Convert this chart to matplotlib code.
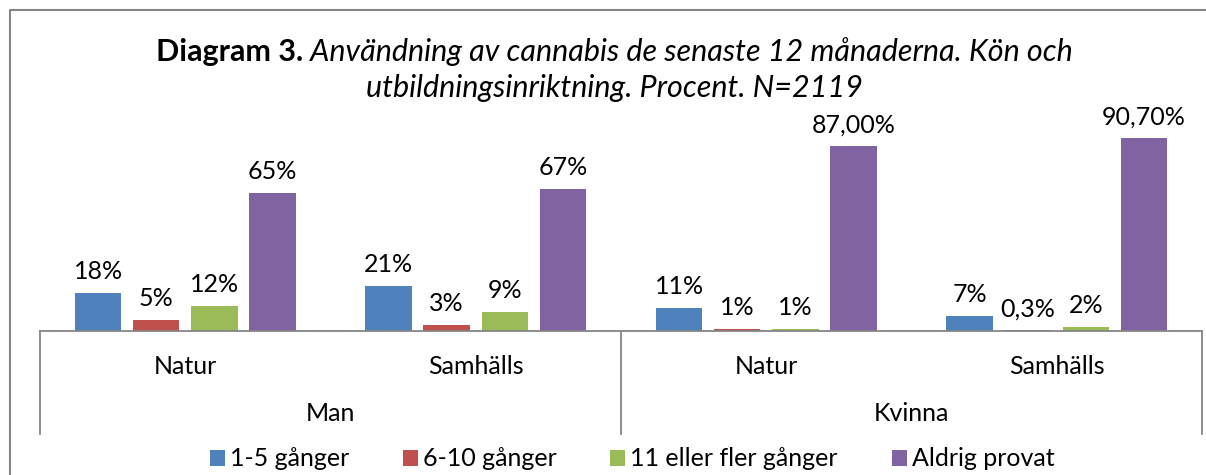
import matplotlib.pyplot as plt
from matplotlib.lines import Line2D
from matplotlib.patches import Patch

plt.rcParams['font.family'] = ['Lato', 'DejaVu Sans']

# data
groups = ['Man', 'Kvinna']
programs = ['Natur', 'Samhälls', 'Natur', 'Samhälls']
series = ['1-5 gånger', '6-10 gånger', '11 eller fler gånger', 'Aldrig provat']
colors = ['#4F81BD', '#C0504D', '#9BBB59', '#8064A2']
vals_1_5 = [18, 21, 11, 7]
vals_6_10 = [5, 3, 1, 0.3]
vals_11 = [12, 9, 1, 2]
vals_never = [65, 67, 87, 90.7]
labels_1_5 = ['18%', '21%', '11%', '7%']
labels_6_10 = ['5%', '3%', '1%', '0,3%']
labels_11 = ['12%', '9%', '1%', '2%']
labels_never = ['65%', '67%', '87,00%', '90,70%']

all_vals = [vals_1_5, vals_6_10, vals_11, vals_never]
all_labels = [labels_1_5, labels_6_10, labels_11, labels_never]

W, H = 1206, 475
fig = plt.figure(figsize=(W / 100, H / 100), dpi=100)
ax = fig.add_axes([40 / W, (H - 331) / H, 1162 / W, 212.5 / H])

offsets = [-0.3, -0.1, 0.1, 0.3]
xs = range(len(programs))
for vals, labs, col, off in zip(all_vals, all_labels, colors, offsets):
    pos = [x + off for x in xs]
    ax.bar(pos, vals, width=0.16, color=col, edgecolor='none')
    for p, v, lab in zip(pos, vals, labs):
        ax.annotate(lab, (p, v), xytext=(0, 10), textcoords='offset points',
                    ha='center', va='baseline', fontsize=18, color='black')

ax.set_xlim(-0.5, 3.5)
ax.set_ylim(0, 100)
ax.axis('off')

gray = '#868686'
tr = ax.get_xaxis_transform()
ax.plot([-0.5, 3.5], [0, 0], transform=tr, color=gray, lw=1.3, clip_on=False)
for xv in [-0.5, 1.5, 3.5]:
    ax.plot([xv, xv], [0, -0.485], transform=tr, color=gray, lw=1.3, clip_on=False)

for x, p in zip(xs, programs):
    ax.text(x, -0.165, p, transform=tr, ha='center', va='center', fontsize=18)
for i, g in enumerate(groups):
    ax.text(0.5 + 2 * i, -0.39, g, transform=tr, ha='center', va='center', fontsize=18)

# title: bold + italic parts
renderer = fig.canvas.get_renderer()
t1 = fig.text(0, 1 - 52 / H, 'Diagram 3.', fontsize=22, fontweight='bold', va='center')
t2 = fig.text(0, 1 - 52 / H, ' Användning av cannabis de senaste 12 månaderna. Kön och',
              fontsize=22, fontstyle='italic', va='center')
w1 = t1.get_window_extent(renderer).width
w2 = t2.get_window_extent(renderer).width
start = 614 - (w1 + w2) / 2
t1.set_x(start / W)
t2.set_x((start + w1) / W)
fig.text(614 / W, 1 - 88 / H, 'utbildningsinriktning. Procent. N=2119',
         fontsize=22, fontstyle='italic', ha='center', va='center')

# legend
handles = [Patch(facecolor=c, edgecolor='none') for c in colors]
fig.legend(handles, series, loc='center', bbox_to_anchor=(632 / W, 1 - 459 / H),
           ncol=4, frameon=False, fontsize=18, handlelength=0.6, handleheight=0.6,
           handletextpad=0.2, columnspacing=2.15)

# outer border (cut at right/bottom)
fig.add_artist(Line2D([10 / W, 10 / W, 1], [0, 1 - 10 / H, 1 - 10 / H],
                      transform=fig.transFigure, color=gray, lw=1.5))

fig.savefig('out.png', dpi=100)
